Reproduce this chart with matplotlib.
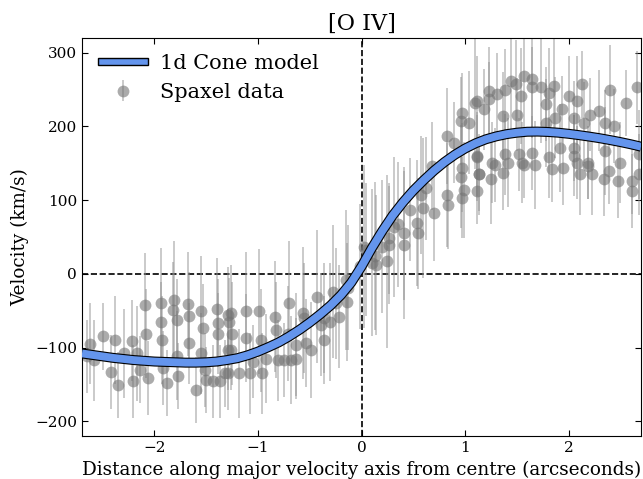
import matplotlib
matplotlib.use('Agg')
import matplotlib.pyplot as plt
import matplotlib.patheffects as pe
from matplotlib.patches import Patch, Rectangle
from matplotlib.legend_handler import HandlerPatch
import numpy as np

plt.rcParams['font.family'] = 'DejaVu Serif'

# 1d cone model (velocity in km/s every 0.1 arcsec from -2.7 to 2.7)
modelo_x = [-2.7, -2.6, -2.5, -2.4, -2.3, -2.2, -2.1, -2.0, -1.9, -1.8,
            -1.7, -1.6, -1.5, -1.4, -1.3, -1.2, -1.1, -1.0, -0.9, -0.8,
            -0.7, -0.6, -0.5, -0.4, -0.3, -0.2, -0.1, 0.0, 0.1, 0.2,
            0.3, 0.4, 0.5, 0.6, 0.7, 0.8, 0.9, 1.0, 1.1, 1.2,
            1.3, 1.4, 1.5, 1.6, 1.7, 1.8, 1.9, 2.0, 2.1, 2.2,
            2.3, 2.4, 2.5, 2.6, 2.7]
modelo_v = [-108, -110, -112, -114, -115.5, -117, -118, -119, -119.5, -120,
            -120.5, -120.5, -120, -119, -117, -114.5, -110.5, -105.5, -99.5, -93,
            -85, -76, -66, -55, -43, -29, -12, 10, 35, 58,
            79, 97, 113, 127, 140, 151.5, 161.5, 170, 177, 182.5,
            186.5, 189.5, 191.5, 192.8, 193, 192.5, 191.5, 190, 188.2, 186.2,
            184, 181.5, 178.8, 175.8, 172.5]

# spaxel data
spax_x = [-2.50, -2.58, -2.38, -2.42, -2.35, -2.29, -2.22, -2.21, -2.17, -2.14,
          -2.09, -2.08, -2.06, -1.94, -1.94, -1.93, -1.92, -1.88, -1.81, -1.82,
          -1.78, -1.78, -1.77, -1.68, -1.67, -1.67, -1.60, -1.55, -1.53, -1.55,
          -1.51, -1.50, -1.40, -1.39, -1.39, -1.43, -1.32, -1.29, -1.29, -1.37,
          -2.65, -2.62,
          -1.26, -1.28, -1.25, -1.26, -1.29, -1.18, -1.12, -1.12, -1.08, -1.05,
          -0.99, -0.97, -0.96, -0.92, -0.84, -0.83, -0.81, -0.75, -0.71, -0.70,
          -0.68, -0.63, -0.63, -0.57, -0.56, -0.54, -0.49, -0.43, -0.39, -0.36,
          -0.36, -0.30, -0.28, -0.25, -0.22, -0.15, -0.14, -0.13, 0.10, 0.04,
          0.02, -0.01, 0.14, 0.13, 0.20, 0.25, 0.27, 0.27, 0.31, 0.35,
          0.41, 0.41, 0.47, 0.54, 0.55, 0.57, 0.59, 0.62, 0.70, 0.68,
          0.83, 0.84, 0.83, 0.89, 0.96, 0.97, 0.99, 0.97, 0.96, 0.97,
          1.04, 1.12, 1.13, 1.10,
          1.12, 1.18, 1.23, 1.23, 1.31, 1.37, 1.39, 1.44, 1.49, 1.50,
          1.54, 1.57, 1.65, 1.65, 1.73, 1.78, 1.81, 1.86, 1.87, 1.78,
          1.94, 2.00, 2.05, 2.08, 2.13, 2.15, 2.21, 2.29, 2.35, 2.40,
          2.44, 2.55, 2.66,
          1.12, 1.13, 1.12, 1.25, 1.26, 1.29, 1.37, 1.39, 1.41, 1.52,
          1.55, 1.57, 1.65, 1.68, 1.81, 1.84, 1.92, 1.95, 2.05, 2.05,
          2.08, 2.11, 2.19, 2.19, 2.23, 2.34, 2.35, 2.39, 2.48, 2.50,
          2.61, 2.61, 2.68, 2.68]
spax_v = [-85, -117, -90, -133, -151, -108, -91, -146, -108, -130,
          -42, -81, -141, -40, -66, -90, -128, -148, -36, -49,
          -62, -111, -139, -41, -57, -94, -158, -51, -74, -108,
          -130, -144, -48, -67, -81, -146, -135, -56, -103, -146,
          -112, -95,
          -53, -65, -81, -103, -135, -135, -51, -87, -135, -119,
          -51, -90, -135, -115, -58, -76, -117, -117, -81, -40,
          -117, -115, -96, -53, -60, -94, -103, -31, -69, -90,
          -60, -65, -24, -40, -58, -8, -38, -19, 15, 33,
          37, 10, 12, 24, 37, 17, 39, 48, 64, 67,
          39, 55, 87, 69, 55, 107, 89, 116, 82, 146,
          107, 94, 187, 178, 132, 144, 114, 103, 207, 218,
          205, 159, 135, 232,
          235, 223, 237, 248, 244, 214, 250, 262, 257, 216,
          241, 269, 264, 253, 253, 230, 246, 255, 212, 205,
          223, 241, 212, 235, 257, 205, 216, 221, 205, 250,
          201, 232, 253,
          160, 135, 112, 128, 151, 148, 137, 162, 151, 162,
          151, 148, 164, 148, 158, 142, 171, 144, 160, 171,
          151, 135, 151, 146, 135, 128, 167, 140, 126, 151,
          126, 112, 135, 162]
spax_err = [45, 55, 60, 50, 45, 60, 55, 50, 65, 45,
            70, 60, 50, 75, 55, 60, 50, 45, 80, 65,
            55, 60, 45, 70, 60, 55, 45, 75, 60, 55,
            50, 45, 70, 60, 55, 50, 45, 65, 55, 50,
            50, 55,
            65, 60, 70, 55, 50, 60, 80, 60, 55, 50,
            85, 70, 55, 60, 75, 65, 55, 50, 65, 85,
            60, 55, 70, 90, 75, 60, 65, 90, 70, 60,
            75, 80, 90, 75, 70, 95, 80, 85, 100, 90,
            110, 85, 95, 100, 90, 117, 80, 75, 95, 85,
            100, 90, 70, 85, 75, 80, 95, 70, 65, 60,
            70, 60, 65, 55, 70, 60, 65, 55, 60, 55,
            70, 60, 55, 90,
            60, 55, 50, 60, 55, 60, 55, 75, 60, 50,
            65, 70, 80, 55, 75, 50, 60, 70, 55, 60,
            45, 55, 50, 60, 45, 55, 50, 55, 45, 60,
            50, 45, 50,
            55, 50, 45, 60, 55, 50, 50, 55, 60, 50,
            55, 45, 50, 60, 55, 45, 60, 50, 55, 45,
            50, 55, 50, 45, 55, 50, 60, 45, 50, 55,
            45, 50, 55, 60]

fig, ax = plt.subplots(figsize=(6.43, 4.79), dpi=100)
fig.subplots_adjust(left=0.1275, right=0.997, bottom=0.0898, top=0.9207)

ax.axvline(0, color='k', ls='--', lw=1.2, zorder=1)
ax.axhline(0, color='k', ls='--', lw=1.2, zorder=1)

datos = ax.errorbar(spax_x, spax_v, yerr=spax_err, fmt='o', color='#747474',
                    ecolor='#909090', alpha=0.6, ms=8.5, mec='none',
                    elinewidth=1.1, capsize=0, zorder=2)

ax.plot(modelo_x, modelo_v, color='cornflowerblue', lw=5.6,
        solid_capstyle='butt', solid_joinstyle='round',
        path_effects=[pe.Stroke(linewidth=7.2, foreground='k', joinstyle='round'),
                      pe.Normal()],
        zorder=3)

ax.set_xlim(-2.7, 2.7)
ax.set_ylim(-220, 320)
ax.set_xticks([-2, -1, 0, 1, 2])
ax.set_yticks([-200, -100, 0, 100, 200, 300])
ax.tick_params(direction='in', top=True, right=True, labelsize=11, length=4)

ax.set_title('[O IV]', fontsize=16)
ax.set_xlabel('Distance along major velocity axis from centre (arcseconds)', fontsize=13.2)
ax.set_ylabel('Velocity (km/s)', fontsize=13.2)


# legend handle for the model: thin blue bar with black edge
def barra(legend, orig_handle, xdescent, ydescent, width, height, fontsize):
    h = 0.36 * fontsize
    return Rectangle((-xdescent, -ydescent + (height - h) / 2), width, h)


modelo_handle = Patch(facecolor='cornflowerblue', edgecolor='k', lw=1.0)
ax.legend([modelo_handle, datos], ['1d Cone model', 'Spaxel data'],
          handler_map={Patch: HandlerPatch(patch_func=barra)},
          loc='upper left', frameon=False, fontsize=15, handlelength=2.4,
          handletextpad=0.6, borderaxespad=0.35)

plt.savefig('out.png', dpi=100)
